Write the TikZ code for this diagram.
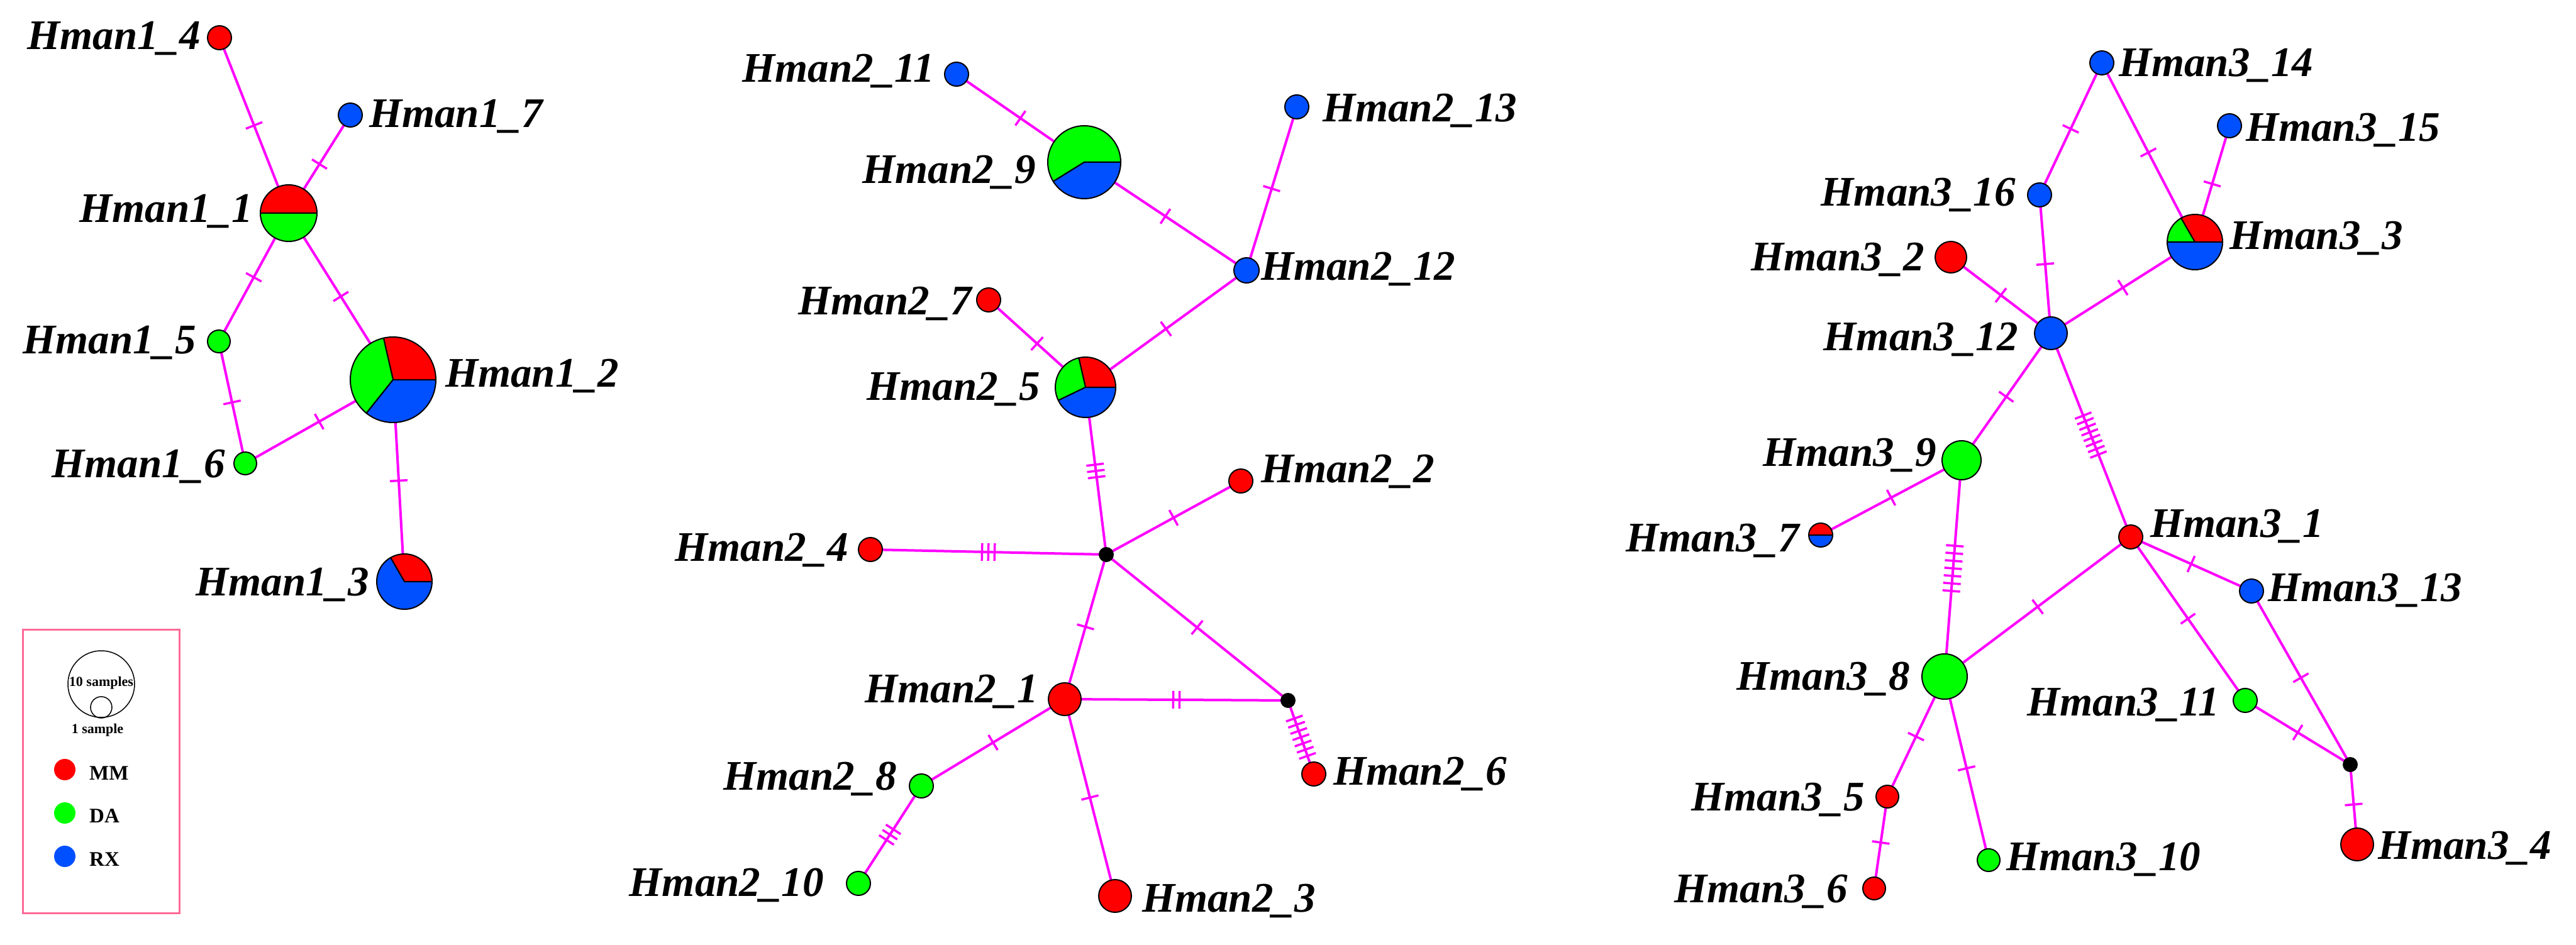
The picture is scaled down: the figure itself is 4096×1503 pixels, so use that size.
\documentclass[tikz,border=0pt]{standalone}
\usepackage{fontspec}
\setmainfont{Liberation Serif}
\usetikzlibrary{decorations.markings}
\pgfdeclarelayer{back}
\pgfdeclarelayer{bg}
\pgfsetlayers{back,bg,main}
\definecolor{mmred}{RGB}{255,0,0}
\definecolor{dagreen}{RGB}{0,255,0}
\definecolor{rxblue}{RGB}{0,80,255}
\definecolor{edgec}{RGB}{255,0,255}
\definecolor{legframe}{RGB}{255,105,150}
\newcommand\slice[5]{\filldraw[fill=#5, draw=black, line width=2pt, line join=round] (#1) -- ++(#3:#2) arc[start angle=#3, end angle=#4, radius=#2] -- cycle;}
\begin{document}
\begin{tikzpicture}[x=1pt,y=1pt,
 hap/.style={circle, draw=black, line width=2pt, inner sep=0pt, minimum size=#1},
 pienode/.style={circle, inner sep=0pt, minimum size=#1},
 junc/.style={circle, fill=black, inner sep=0pt, minimum size=24pt},
 lab/.style={font=\fontsize{67}{70}\selectfont\bfseries\itshape, inner sep=0pt},
 legtxt/.style={font=\fontsize{22}{24}\selectfont\bfseries, inner sep=0pt},
 legkey/.style={font=\fontsize{33}{36}\selectfont\bfseries, inner sep=0pt},
 cnx/.style={draw=edgec, line width=4pt},
 mut/.style 2 args={postaction={decorate, decoration={markings, mark=at position 0.5 with {\foreach \k in {1,...,#1} {\draw[edgec, line width=3.5pt] ({(\k-(#1+1)/2)*#2pt},-14pt) -- ++(0pt,28pt);}}}}},
]
\begin{pgfonlayer}{back}
\fill[white] (0,0) rectangle (4096,-1503);
\end{pgfonlayer}
\useasboundingbox (0,0) rectangle (4096,-1503);

% ---------------- Network 1 ----------------
\node[hap=38pt, fill=mmred] (ha4) at (349,-60) {};
\node[hap=38pt, fill=rxblue] (ha7) at (557,-183) {};
\node[pienode=90pt] (ha1) at (459,-339) {};
\node[hap=36pt, fill=dagreen] (ha5) at (348,-543) {};
\node[pienode=136pt] (ha2) at (625,-604) {};
\node[hap=36pt, fill=dagreen] (ha6) at (390,-737) {};
\node[pienode=88pt] (ha3) at (643,-925) {};
\slice{ha1.center}{45pt}{0}{180}{mmred}
\slice{ha1.center}{45pt}{180}{360}{dagreen}
\slice{ha2.center}{68pt}{0}{102.9}{mmred}
\slice{ha2.center}{68pt}{102.9}{231.4}{dagreen}
\slice{ha2.center}{68pt}{231.4}{360}{rxblue}
\slice{ha3.center}{44pt}{0}{120}{mmred}
\slice{ha3.center}{44pt}{120}{360}{rxblue}

\node[lab, anchor=base east] (la4) at (319,-79) {Hman1\_4};
\node[lab, anchor=base west] (la7) at (587,-203) {Hman1\_7};
\node[lab, anchor=base east] (la1) at (402,-354) {Hman1\_1};
\node[lab, anchor=base east] (la5) at (312,-562) {Hman1\_5};
\node[lab, anchor=base west] (la2) at (708,-615) {Hman1\_2};
\node[lab, anchor=base east] (la6) at (358,-759) {Hman1\_6};
\node[lab, anchor=base east] (la3) at (587,-947) {Hman1\_3};

% ---------------- Legend ----------------
\node[draw=legframe, line width=3pt, minimum width=249pt, minimum height=451pt, inner sep=0pt] (legend) at (160.5,-1226.5) {};
\node[circle, draw=black, line width=1.5pt, minimum size=106pt, inner sep=0pt] (lbig) at (161,-1088) {};
\node[circle, draw=black, line width=1.5pt, minimum size=34pt, inner sep=0pt] (lsmall) at (161,-1125) {};
\node[legtxt] (lbigt) at (161,-1086) {10 samples};
\node[legtxt] (lsmt) at (155,-1161) {1 sample};
\node[circle, fill=mmred, minimum size=34pt, inner sep=0pt] (lmm) at (103,-1224) {};
\node[circle, fill=dagreen, minimum size=34pt, inner sep=0pt] (lda) at (103,-1293) {};
\node[circle, fill=rxblue, minimum size=34pt, inner sep=0pt] (lrx) at (103,-1362) {};
\node[legkey, anchor=base west] (tmm) at (142,-1240) {MM};
\node[legkey, anchor=base west] (tda) at (142,-1308) {DA};
\node[legkey, anchor=base west] (trx) at (142,-1377) {RX};

% ---------------- Network 2 ----------------
\node[hap=38pt, fill=rxblue] (hb11) at (1521,-118) {};
\node[pienode=116pt] (hb9) at (1724,-258) {};
\node[hap=38pt, fill=rxblue] (hb13) at (2062,-170) {};
\node[hap=40pt, fill=rxblue] (hb12) at (1982,-430) {};
\node[hap=38pt, fill=mmred] (hb7) at (1572,-477) {};
\node[pienode=96pt] (hb5) at (1726,-616) {};
\node[junc] (jb1) at (1759,-882) {};
\node[hap=38pt, fill=mmred] (hb2) at (1973,-765) {};
\node[hap=38pt, fill=mmred] (hb4) at (1384,-874) {};
\node[hap=52pt, fill=mmred] (hb1) at (1693,-1112) {};
\node[junc] (jb2) at (2048,-1114) {};
\node[hap=38pt, fill=mmred] (hb6) at (2089,-1231) {};
\node[hap=38pt, fill=dagreen] (hb8) at (1465,-1250) {};
\node[hap=38pt, fill=dagreen] (hb10) at (1365,-1405) {};
\node[hap=52pt, fill=mmred] (hb3) at (1773,-1425) {};
\slice{hb9.center}{58pt}{0}{211.8}{dagreen}
\slice{hb9.center}{58pt}{211.8}{360}{rxblue}
\slice{hb5.center}{48pt}{0}{102.9}{mmred}
\slice{hb5.center}{48pt}{102.9}{205.7}{dagreen}
\slice{hb5.center}{48pt}{205.7}{360}{rxblue}

\node[lab, anchor=base east] (lb11) at (1486,-131) {Hman2\_11};
\node[lab, anchor=base east] (lb9) at (1647,-292) {Hman2\_9};
\node[lab, anchor=base west] (lb13) at (2103,-194) {Hman2\_13};
\node[lab, anchor=base west] (lb12) at (2005,-445) {Hman2\_12};
\node[lab, anchor=base east] (lb7) at (1545,-500) {Hman2\_7};
\node[lab, anchor=base east] (lb5) at (1654,-636) {Hman2\_5};
\node[lab, anchor=base west] (lb2) at (2005,-767) {Hman2\_2};
\node[lab, anchor=base east] (lb4) at (1349,-892) {Hman2\_4};
\node[lab, anchor=base east] (lb1) at (1651,-1117) {Hman2\_1};
\node[lab, anchor=base west] (lb6) at (2120,-1248) {Hman2\_6};
\node[lab, anchor=base east] (lb8) at (1426,-1256) {Hman2\_8};
\node[lab, anchor=base east] (lb10) at (1310,-1425) {Hman2\_10};
\node[lab, anchor=base west] (lb3) at (1816,-1450) {Hman2\_3};

% ---------------- Network 3 ----------------
\node[hap=38pt, fill=rxblue] (hc14) at (3342,-100) {};
\node[hap=38pt, fill=rxblue] (hc15) at (3545,-200) {};
\node[hap=38pt, fill=rxblue] (hc16) at (3243,-310) {};
\node[pienode=88pt] (hc3) at (3490,-385) {};
\node[hap=50pt, fill=mmred] (hc2) at (3102,-409) {};
\node[hap=52pt, fill=rxblue] (hc12) at (3261,-530) {};
\node[hap=62pt, fill=dagreen] (hc9) at (3119,-732) {};
\node[pienode=38pt] (hc7) at (2895,-851) {};
\node[hap=38pt, fill=mmred] (hc1) at (3388,-854) {};
\node[hap=38pt, fill=rxblue] (hc13) at (3580,-940) {};
\node[hap=72pt, fill=dagreen] (hc8) at (3092,-1076) {};
\node[hap=38pt, fill=dagreen] (hc11) at (3570,-1114) {};
\node[junc] (jc1) at (3737,-1216) {};
\node[hap=52pt, fill=mmred] (hc4) at (3748,-1343) {};
\node[hap=36pt, fill=mmred] (hc5) at (3001,-1267) {};
\node[hap=36pt, fill=mmred] (hc6) at (2980,-1413) {};
\node[hap=36pt, fill=dagreen] (hc10) at (3162,-1368) {};
\slice{hc3.center}{44pt}{0}{120}{mmred}
\slice{hc3.center}{44pt}{120}{180}{dagreen}
\slice{hc3.center}{44pt}{180}{360}{rxblue}
\slice{hc7.center}{19pt}{0}{180}{mmred}
\slice{hc7.center}{19pt}{180}{360}{rxblue}

\node[lab, anchor=base west] (lc14) at (3369,-122) {Hman3\_14};
\node[lab, anchor=base west] (lc15) at (3571,-225) {Hman3\_15};
\node[lab, anchor=base east] (lc16) at (3205,-328) {Hman3\_16};
\node[lab, anchor=base west] (lc3) at (3545,-397) {Hman3\_3};
\node[lab, anchor=base east] (lc2) at (3060,-430) {Hman3\_2};
\node[lab, anchor=base east] (lc12) at (3209,-557) {Hman3\_12};
\node[lab, anchor=base east] (lc9) at (3079,-741) {Hman3\_9};
\node[lab, anchor=base east] (lc7) at (2861,-877) {Hman3\_7};
\node[lab, anchor=base west] (lc1) at (3419,-854) {Hman3\_1};
\node[lab, anchor=base west] (lc13) at (3606,-956) {Hman3\_13};
\node[lab, anchor=base east] (lc8) at (3037,-1097) {Hman3\_8};
\node[lab, anchor=base east] (lc11) at (3529,-1138) {Hman3\_11};
\node[lab, anchor=base west] (lc4) at (3781,-1366) {Hman3\_4};
\node[lab, anchor=base east] (lc5) at (2965,-1289) {Hman3\_5};
\node[lab, anchor=base east] (lc6) at (2938,-1435) {Hman3\_6};
\node[lab, anchor=base west] (lc10) at (3190,-1384) {Hman3\_10};

% ---------------- Connectors ----------------
\begin{pgfonlayer}{bg}
\draw[cnx, mut={1}{10}] (ha4.center) -- (ha1.center);
\draw[cnx, mut={1}{10}] (ha7.center) -- (ha1.center);
\draw[cnx, mut={1}{10}] (ha1.center) -- (ha5.center);
\draw[cnx, mut={1}{10}] (ha1.center) -- (ha2.center);
\draw[cnx, mut={1}{10}] (ha5.center) -- (ha6.center);
\draw[cnx, mut={1}{10}] (ha6.center) -- (ha2.center);
\draw[cnx, mut={1}{10}] (ha2.center) -- (ha3.center);

\draw[cnx, mut={1}{10}] (hb11.center) -- (hb9.center);
\draw[cnx, mut={1}{10}] (hb9.center) -- (hb12.center);
\draw[cnx, mut={1}{10}] (hb13.center) -- (hb12.center);
\draw[cnx, mut={1}{10}] (hb12.center) -- (hb5.center);
\draw[cnx, mut={1}{10}] (hb7.center) -- (hb5.center);
\draw[cnx, mut={3}{10}] (hb5.center) -- (jb1.center);
\draw[cnx, mut={3}{10}] (hb4.center) -- (jb1.center);
\draw[cnx, mut={1}{10}] (hb2.center) -- (jb1.center);
\draw[cnx, mut={1}{10}] (jb1.center) -- (hb1.center);
\draw[cnx, mut={1}{10}] (jb1.center) -- (jb2.center);
\draw[cnx, mut={2}{10}] (hb1.center) -- (jb2.center);
\draw[cnx, mut={7}{10.5}] (jb2.center) -- (hb6.center);
\draw[cnx, mut={1}{10}] (hb1.center) -- (hb8.center);
\draw[cnx, mut={3}{10}] (hb8.center) -- (hb10.center);
\draw[cnx, mut={1}{10}] (hb1.center) -- (hb3.center);

\draw[cnx, mut={1}{10}] (hc14.center) -- (hc16.center);
\draw[cnx, mut={1}{10}] (hc14.center) -- (hc3.center);
\draw[cnx, mut={1}{10}] (hc15.center) -- (hc3.center);
\draw[cnx, mut={1}{10}] (hc16.center) -- (hc12.center);
\draw[cnx, mut={1}{10}] (hc2.center) -- (hc12.center);
\draw[cnx, mut={1}{10}] (hc3.center) -- (hc12.center);
\draw[cnx, mut={1}{10}] (hc12.center) -- (hc9.center);
\draw[cnx, mut={8}{9.5}] (hc12.center) -- (hc1.center);
\draw[cnx, mut={1}{10}] (hc9.center) -- (hc7.center);
\draw[cnx, mut={7}{12}] (hc9.center) -- (hc8.center);
\draw[cnx, mut={1}{10}] (hc8.center) -- (hc1.center);
\draw[cnx, mut={1}{10}] (hc1.center) -- (hc13.center);
\draw[cnx, mut={1}{10}] (hc1.center) -- (hc11.center);
\draw[cnx, mut={1}{10}] (hc13.center) -- (jc1.center);
\draw[cnx, mut={1}{10}] (hc11.center) -- (jc1.center);
\draw[cnx, mut={1}{10}] (jc1.center) -- (hc4.center);
\draw[cnx, mut={1}{10}] (hc8.center) -- (hc5.center);
\draw[cnx, mut={1}{10}] (hc5.center) -- (hc6.center);
\draw[cnx, mut={1}{10}] (hc8.center) -- (hc10.center);
\end{pgfonlayer}
\end{tikzpicture}
\end{document}
